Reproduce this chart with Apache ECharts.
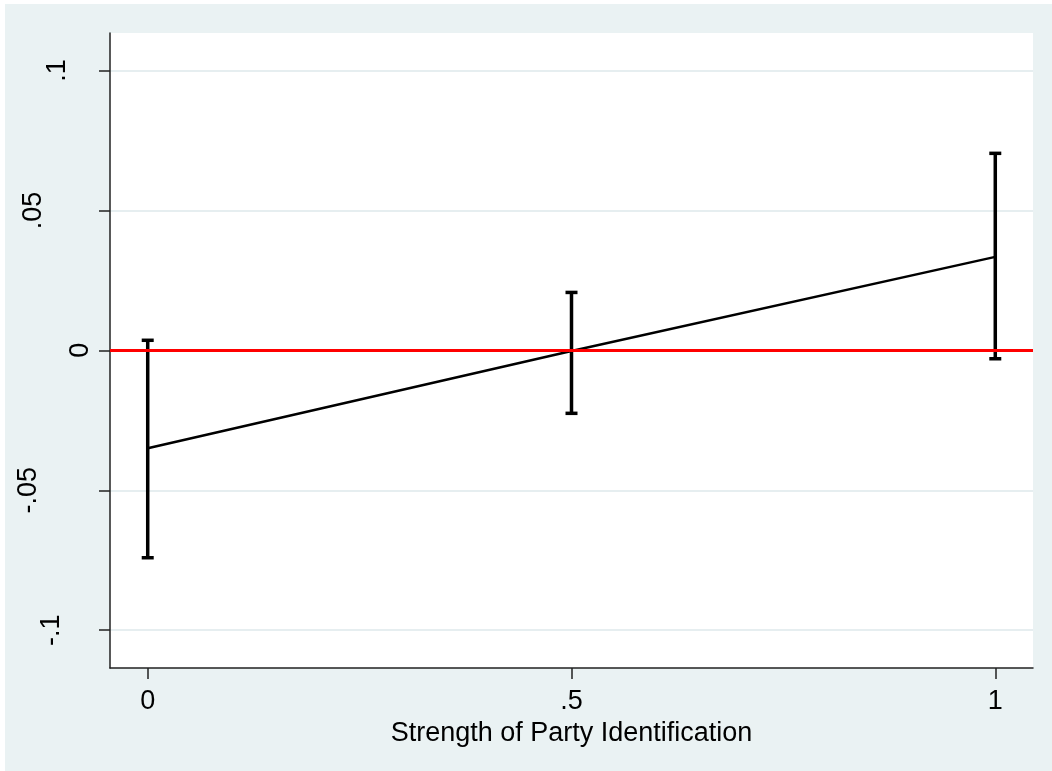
<!DOCTYPE html>
<html>
<head>
<meta charset="utf-8">
<title>Strength of Party Identification</title>
<script src="https://cdn.jsdelivr.net/npm/echarts@6/dist/echarts.min.js"></script>
<style>
  html, body { margin: 0; padding: 0; background: #ffffff; overflow: hidden; width: 100%; height: 100%; }
  #chart { position: absolute; left: 5px; top: 4px; right: 0; bottom: 0; background: #EAF2F3; }
</style>
</head>
<body>
<div id="chart"></div>
<script>
// Marginal effect estimates with confidence bounds
const strength = [0, 0.5, 1];
const estimate = [-0.0350, -0.0002, 0.0334];
const lowerBound = [-0.0741, -0.0225, -0.0030];
const upperBound = [0.0036, 0.0207, 0.0704];

// Axis ticks and their printed labels
const xTicks = [0, 0.5, 1];
const xTickLabels = ['0', '.5', '1'];
const yTicks = [-0.1, -0.05, 0, 0.05, 0.1];
const yTickLabels = ['-.1', '-.05', '0', '.05', '.1'];

const FONT = "Arial, 'Liberation Sans', Helvetica, sans-serif";
const FONT_SIZE = 27;
const AXIS_COLOR = '#222222';

// Offsets that push each rotated y label away from the axis
const yLabelOffsets = [41, 64, 12, 59, 35];
const yRich = {};
yTickLabels.forEach((_, i) => {
  yRich['p' + i] = {
    fontSize: FONT_SIZE, fontFamily: FONT, color: '#000',
    padding: [0, 0, yLabelOffsets[i], 0]
  };
});

function tickIndex(ticks, v) {
  return ticks.findIndex(t => Math.abs(t - v) < 1e-9);
}

const chart = echarts.init(document.getElementById('chart'), null, { renderer: 'canvas' });

chart.setOption({
  animation: false,
  backgroundColor: '#EAF2F3',
  grid: {
    left: 105, right: 19, top: 29, bottom: 103,
    show: true, backgroundColor: '#ffffff', borderWidth: 0,
    containLabel: false
  },
  xAxis: {
    type: 'value',
    min: -0.0445, max: 1.0445,
    name: 'Strength of Party Identification',
    nameLocation: 'middle',
    nameGap: 44,
    nameTextStyle: { fontSize: FONT_SIZE, fontFamily: FONT, color: '#000', verticalAlign: 'top' },
    axisLine: { show: true, onZero: false, lineStyle: { color: AXIS_COLOR, width: 1.5 } },
    axisTick: { show: true, length: 11, customValues: xTicks, lineStyle: { color: AXIS_COLOR, width: 1.5 } },
    axisLabel: {
      customValues: xTicks,
      margin: 20,
      fontSize: FONT_SIZE, fontFamily: FONT, color: '#000',
      verticalAlign: 'top',
      formatter: v => { const i = tickIndex(xTicks, v); return i < 0 ? '' : xTickLabels[i]; }
    },
    splitLine: { show: false }
  },
  yAxis: {
    type: 'value',
    min: -0.1135, max: 0.1134,
    axisLine: { show: true, onZero: false, lineStyle: { color: AXIS_COLOR, width: 1.5 } },
    axisTick: { show: true, length: 11, customValues: yTicks, lineStyle: { color: AXIS_COLOR, width: 1.5 } },
    axisLabel: {
      customValues: yTicks,
      rotate: 90,
      margin: 4,
      formatter: v => { const i = tickIndex(yTicks, v); return i < 0 ? '' : '{p' + i + '|' + yTickLabels[i] + '}'; },
      rich: yRich
    },
    splitLine: { show: true, lineStyle: { color: '#E6EEF0', width: 2 } }
  },
  series: [
    {
      // zero reference line
      type: 'line',
      data: [],
      z: 1,
      silent: true,
      markLine: {
        silent: true,
        symbol: 'none',
        label: { show: false },
        lineStyle: { color: '#FF0000', width: 3, type: 'solid' },
        data: [{ yAxis: 0 }]
      }
    },
    {
      // confidence interval caps
      type: 'custom',
      z: 3,
      data: strength.map((x, i) => [x, lowerBound[i], upperBound[i]]),
      renderItem: (params, api) => {
        const x = api.value(0);
        const lo = api.coord([x, api.value(1)]);
        const hi = api.coord([x, api.value(2)]);
        const half = 6;
        const style = { stroke: '#000000', lineWidth: 3.5 };
        return {
          type: 'group',
          children: [
            { type: 'line', shape: { x1: lo[0], y1: lo[1], x2: hi[0], y2: hi[1] }, style },
            { type: 'line', shape: { x1: lo[0] - half, y1: lo[1], x2: lo[0] + half, y2: lo[1] }, style },
            { type: 'line', shape: { x1: hi[0] - half, y1: hi[1], x2: hi[0] + half, y2: hi[1] }, style }
          ]
        };
      }
    },
    {
      // point estimates
      type: 'line',
      z: 4,
      data: strength.map((x, i) => [x, estimate[i]]),
      symbol: 'none',
      lineStyle: { color: '#000000', width: 2.5 }
    }
  ]
});
</script>
</body>
</html>
